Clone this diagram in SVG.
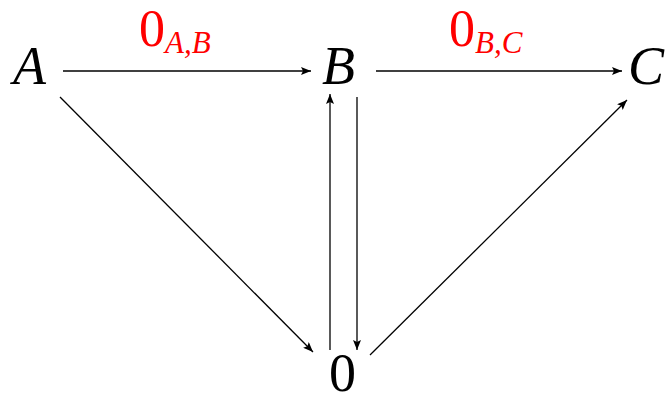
<svg xmlns="http://www.w3.org/2000/svg" width="667" height="398" viewBox="0 0 667 398">
<style>
text{font-family:'Liberation Serif','DejaVu Serif',serif}
.n{font-size:54px;fill:#000}
.i{font-style:italic}
.r{fill:#ff0000}
.e{stroke:#000;stroke-width:1.3;fill:none;marker-end:url(#ah)}
</style>
<defs>
<marker id="ah" viewBox="0 0 10 8" refX="10" refY="4" markerWidth="10" markerHeight="8" markerUnits="userSpaceOnUse" orient="auto">
<path d="M0,0 L10,4 L0,8 L2,4 Z" fill="#000"/>
</marker>
</defs>
<rect width="667" height="398" fill="#fff"/>
<g id="nA"><text class="n i" x="13" y="84">A</text></g>
<g id="nB"><text class="n i" x="322" y="84">B</text></g>
<g id="nC"><text class="n i" x="628" y="84">C</text></g>
<g id="n0"><text class="n" x="329" y="391" font-size="52">0</text></g>
<g id="edges">
<line class="e" x1="63" y1="71" x2="311" y2="71"/>
<line class="e" x1="376" y1="71" x2="622" y2="71"/>
<line class="e" x1="60" y1="97" x2="313" y2="352"/>
<line class="e" x1="330" y1="350" x2="330" y2="94"/>
<line class="e" x1="357" y1="97" x2="357" y2="350"/>
<line class="e" x1="370" y1="355" x2="627" y2="100"/>
</g>
<g id="labels">
<text class="r" x="139" y="46" font-size="52">0<tspan font-size="31" font-style="italic" dy="7">A,B</tspan></text>
<text class="r" x="449" y="46" font-size="52">0<tspan font-size="31" font-style="italic" dy="7">B,C</tspan></text>
</g>
</svg>
